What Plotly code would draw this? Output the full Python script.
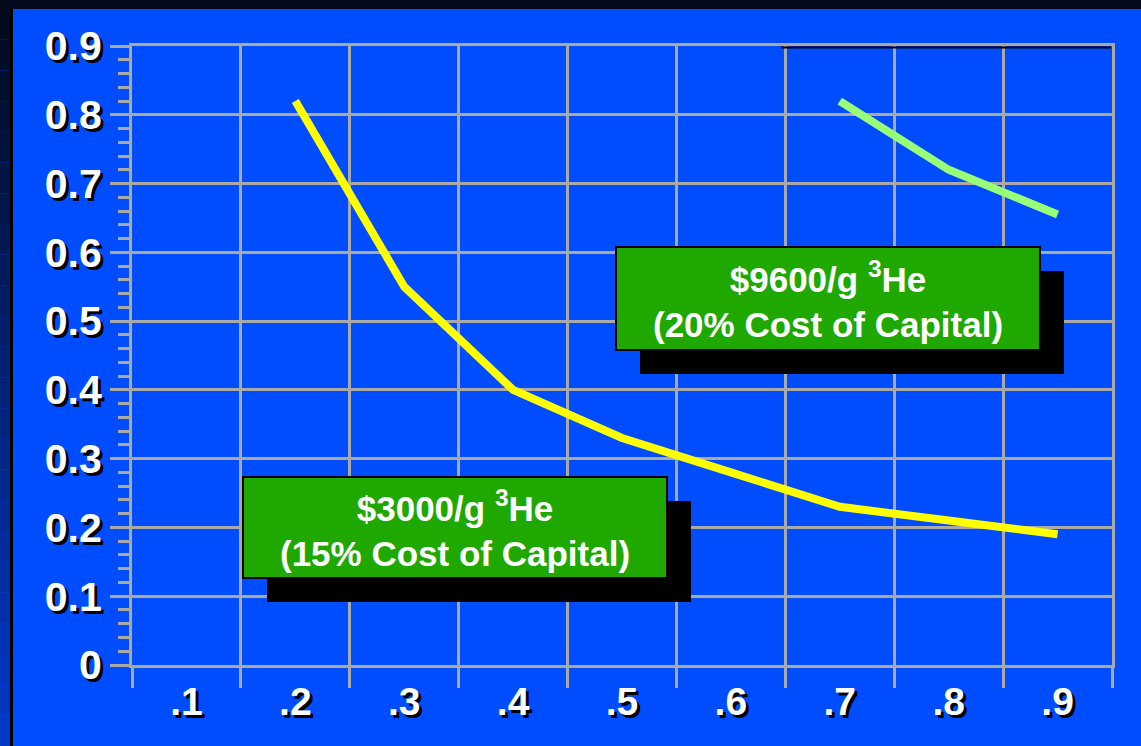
import plotly.graph_objects as go

# ---------------- data ----------------
categories = [".1", ".2", ".3", ".4", ".5", ".6", ".7", ".8", ".9"]
yellow_x = [".2", ".3", ".4", ".5", ".6", ".7", ".8", ".9"]
yellow_y = [0.82, 0.55, 0.40, 0.33, 0.28, 0.23, 0.21, 0.19]
green_x = [".7", ".8", ".9"]
green_y = [0.82, 0.72, 0.655]
label_9600 = "$9600/g <sup>3</sup>He<br>(20% Cost of Capital)"
label_3000 = "$3000/g <sup>3</sup>He<br>(15% Cost of Capital)"

# ---------------- layout geometry ----------------
W, H = 1141, 746
L, R, T, B = 132, 1112, 46, 665
PW, PH = R - L, B - T

def px(x):
    return (x - L) / PW

def py(y):
    return (B - y) / PH

BLUE = "#004dff"
GRID = "#a9a9a9"
BOXGREEN = "#1ea800"
FONT = "Arial, Liberation Sans, sans-serif"
SHADOW = "3px 3px 0px #000000"

fig = go.Figure()
fig.add_trace(go.Scatter(x=yellow_x, y=yellow_y, mode="lines",
                         line=dict(color="#ffff00", width=8), showlegend=False))
fig.add_trace(go.Scatter(x=green_x, y=green_y, mode="lines",
                         line=dict(color="#99ff77", width=8), showlegend=False))

shapes = []
# frame strips
shapes.append(dict(type="rect", xref="paper", yref="paper",
                   x0=px(0), x1=px(W), y0=py(0), y1=py(9),
                   fillcolor="#040b1f", line_width=0, layer="above"))
n = 24
c0 = (2, 10, 32)
c1 = (0, 56, 200)
for i in range(n):
    t = i / (n - 1)
    col = tuple(int(c0[k] + (c1[k] - c0[k]) * t) for k in range(3))
    shapes.append(dict(type="rect", xref="paper", yref="paper",
                       x0=px(0), x1=px(10), y0=py(9 + (H - 9) * i / n),
                       y1=py(9 + (H - 9) * (i + 1) / n),
                       fillcolor="rgb(%d,%d,%d)" % col, line_width=0, layer="above"))
shapes.append(dict(type="rect", xref="paper", yref="paper",
                   x0=px(10), x1=px(13), y0=py(9), y1=py(H),
                   fillcolor="#000000", line_width=0, layer="above"))
# black line on top edge
shapes.append(dict(type="line", xref="paper", yref="paper",
                   x0=px(781), x1=px(1111), y0=py(47.5), y1=py(47.5),
                   line=dict(color="#000000", width=2), layer="above"))

def box(x0, y0, x1, y1, dx=24, dy=24):
    shapes.append(dict(type="rect", xref="paper", yref="paper",
                       x0=px(x0 + dx), x1=px(x1 + dx), y0=py(y0 + dy), y1=py(y1 + dy),
                       fillcolor="#000000", line_width=0, layer="above"))
    shapes.append(dict(type="rect", xref="paper", yref="paper",
                       x0=px(x0), x1=px(x1), y0=py(y0), y1=py(y1),
                       fillcolor=BOXGREEN, line=dict(color="#000000", width=2),
                       layer="above"))

box(616, 247, 1040, 350)
box(243, 477, 667, 578)

annotations = [
    dict(xref="paper", yref="paper", x=px(828), y=py(299), text=label_9600,
         showarrow=False, xanchor="center", yanchor="middle", align="center",
         font=dict(family=FONT, size=35, color="white", weight="bold")),
    dict(xref="paper", yref="paper", x=px(455), y=py(528), text=label_3000,
         showarrow=False, xanchor="center", yanchor="middle", align="center",
         font=dict(family=FONT, size=35, color="white", weight="bold")),
]

fig.update_layout(
    width=W, height=H,
    margin=dict(l=L, r=W - R, t=T, b=H - B, pad=0),
    paper_bgcolor=BLUE, plot_bgcolor=BLUE,
    shapes=shapes, annotations=annotations,
    showlegend=False,
    xaxis=dict(type="category", categoryorder="array", categoryarray=categories,
               tickvals=categories, range=[-0.5, 8.5], tickson="boundaries",
               ticks="outside", ticklen=20, tickwidth=3, tickcolor=GRID,
               showgrid=True, gridcolor=GRID, gridwidth=3,
               showline=True, linecolor=GRID, linewidth=3, mirror=True,
               tickfont=dict(family=FONT, size=39, color="white", weight="bold",
                             shadow=SHADOW),
               fixedrange=True),
    yaxis=dict(range=[0, 0.9], tickvals=[0, 0.1, 0.2, 0.3, 0.4, 0.5, 0.6, 0.7, 0.8, 0.9],
               ticktext=["0", "0.1", "0.2", "0.3", "0.4", "0.5", "0.6", "0.7", "0.8", "0.9"],
               ticks="outside", ticklen=19, tickwidth=3, tickcolor=GRID,
               showgrid=True, gridcolor=GRID, gridwidth=3,
               zeroline=False,
               showline=True, linecolor=GRID, linewidth=3, mirror=True,
               minor=dict(dtick=0.02, ticks="outside", ticklen=11, tickwidth=3,
                          tickcolor=GRID, showgrid=False),
               tickfont=dict(family=FONT, size=41, color="white", weight="bold",
                             shadow=SHADOW),
               fixedrange=True),
)

fig.write_html("out.html")
